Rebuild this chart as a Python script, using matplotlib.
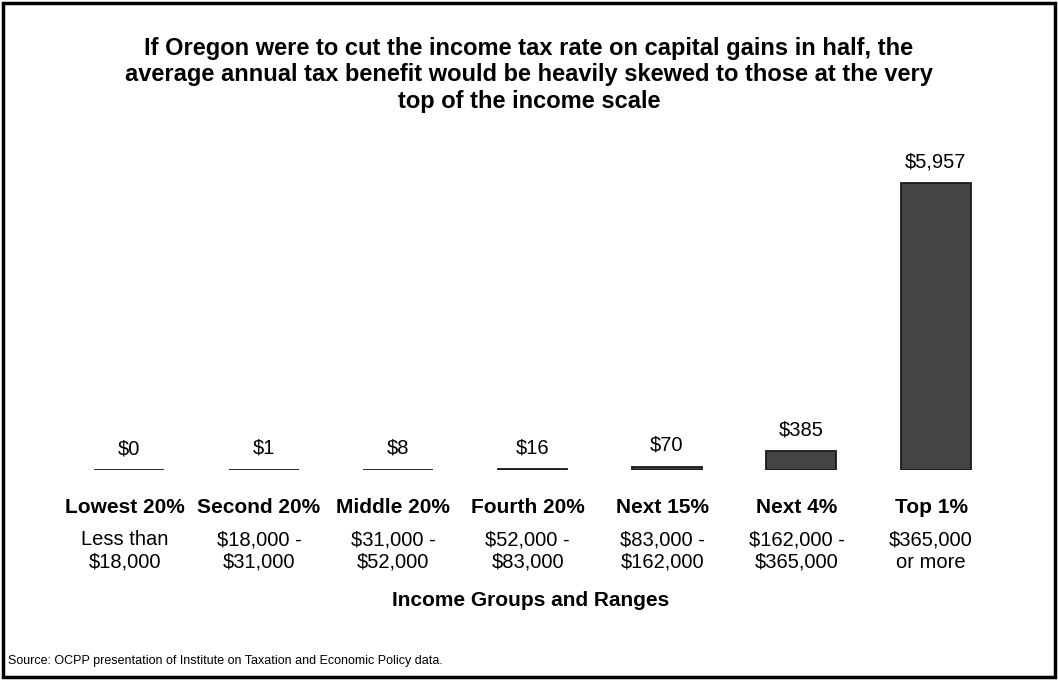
import matplotlib
matplotlib.use("Agg")
import matplotlib.pyplot as plt
from matplotlib.patches import Rectangle
from matplotlib.transforms import blended_transform_factory

plt.rcParams['font.family'] = ['Liberation Sans', 'DejaVu Sans']

groups = ["Lowest 20%", "Second 20%", "Middle 20%", "Fourth 20%", "Next 15%", "Next 4%", "Top 1%"]
ranges = ["Less than\n$18,000", "$18,000 -\n$31,000", "$31,000 -\n$52,000", "$52,000 -\n$83,000",
          "$83,000 -\n$162,000", "$162,000 -\n$365,000", "$365,000\nor more"]
benefits = [0, 1, 8, 16, 70, 385, 5957]
value_labels = ["$0", "$1", "$8", "$16", "$70", "$385", "$5,957"]

title = ("If Oregon were to cut the income tax rate on capital gains in half, the\n"
         "average annual tax benefit would be heavily skewed to those at the very\n"
         "top of the income scale")
xlabel = "Income Groups and Ranges"
source = "Source: OCPP presentation of Institute on Taxation and Economic Policy data."

W, H = 1058, 680
fig = plt.figure(figsize=(W / 100, H / 100), dpi=100)
fig.patch.set_facecolor('white')

ax = fig.add_axes([62 / W, 1 - 470 / H, (1003 - 62) / W, 0.425])
x = list(range(len(groups)))
ax.bar(x, benefits, width=0.52, color='#444444', edgecolor='#1a1a1a', linewidth=1.3)
ax.set_xlim(-0.5, len(groups) - 0.5)
ax.set_ylim(0, 6000)
ax.axis('off')

for xi, v, lab in zip(x, benefits, value_labels):
    ax.annotate(lab, (xi, v), xytext=(0, 16), textcoords='offset pixels',
                ha='center', va='baseline', fontsize=14.5)

tr = blended_transform_factory(ax.transData, fig.transFigure)
for xi, g, r in zip(x, groups, ranges):
    ax.text(xi - 0.035, 1 - 513 / H, g, transform=tr, ha='center', va='baseline',
            fontsize=15, fontweight='bold')
    ax.text(xi - 0.035, 1 - 568 / H, r, transform=tr, ha='center', va='baseline',
            fontsize=14.5, linespacing=1.25)

fig.text(531 / W, 1 - 606 / H, xlabel, ha='center', va='baseline', fontsize=15, fontweight='bold')
fig.text(0.5, 1 - 75 / H, title, ha='center', va='center', fontsize=17, fontweight='bold',
         linespacing=1.17)
fig.text(8 / W, 1 - 661 / H, source, ha='left', va='center', fontsize=9)

fig.patches.append(Rectangle((3 / W, 3 / H), (W - 6) / W, (H - 6) / H, transform=fig.transFigure,
                             fill=False, edgecolor='black', linewidth=2.5))

fig.savefig('out.png', dpi=100)
